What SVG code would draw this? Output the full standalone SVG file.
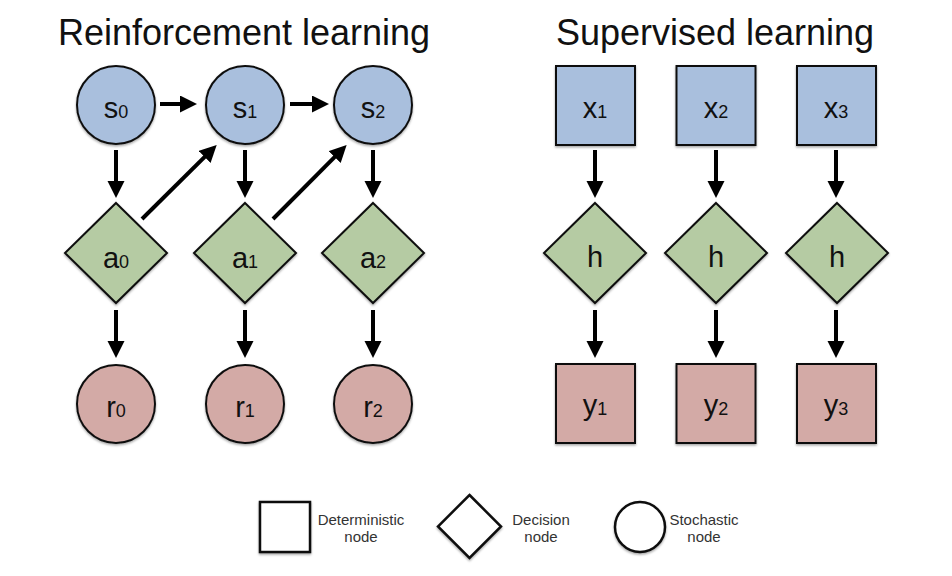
<svg xmlns="http://www.w3.org/2000/svg" width="952" height="576" viewBox="0 0 952 576">
  <defs>
    <marker id="ah" markerUnits="userSpaceOnUse" markerWidth="18" markerHeight="18" refX="9" refY="8.5" orient="auto">
      <path d="M0,0 L17,8.5 L0,17 Z" fill="#000"/>
    </marker>
    <filter id="sh" x="-20%" y="-20%" width="140%" height="150%">
      <feDropShadow dx="0" dy="1.5" stdDeviation="1.2" flood-color="#000" flood-opacity="0.35"/>
    </filter>
  </defs>
  <style>
    text { font-family: "Liberation Sans", Arial, sans-serif; fill: #111; }
    .title { font-size: 36px; text-anchor: middle; }
    .lbl { font-size: 29px; text-anchor: middle; }
    .sub { font-size: 18px; }
    .leg { font-size: 15px; text-anchor: middle; fill: #333; }
    .blue { fill: #a9bfdd; stroke: #111; stroke-width: 2; filter: url(#sh); }
    .green { fill: #b5cba3; stroke: #111; stroke-width: 2; filter: url(#sh); }
    .pink { fill: #d3aaa6; stroke: #111; stroke-width: 2; filter: url(#sh); }
    .legshape { fill: #fff; stroke: #111; stroke-width: 2.5; filter: url(#sh); }
    .arr { stroke: #000; stroke-width: 4; fill: none; marker-end: url(#ah); }
  </style>
  <rect width="952" height="576" fill="#fff"/>

  <text class="title" x="244" y="45">Reinforcement learning</text>
  <text class="title" x="715" y="45">Supervised learning</text>

  <g id="connectors">
    <line class="arr" x1="160" y1="104" x2="189" y2="104"/>
    <line class="arr" x1="290" y1="104" x2="321" y2="104"/>
    <line class="arr" x1="116" y1="150" x2="116" y2="190"/>
    <line class="arr" x1="245" y1="150" x2="245" y2="190"/>
    <line class="arr" x1="373" y1="150" x2="373" y2="190"/>
    <line class="arr" x1="142" y1="219" x2="211" y2="150.7"/>
    <line class="arr" x1="273" y1="219" x2="341" y2="150.7"/>
    <line class="arr" x1="116" y1="310" x2="116" y2="350"/>
    <line class="arr" x1="245" y1="310" x2="245" y2="350"/>
    <line class="arr" x1="373" y1="310" x2="373" y2="350"/>
    <line class="arr" x1="595" y1="150" x2="595" y2="190"/>
    <line class="arr" x1="716" y1="150" x2="716" y2="190"/>
    <line class="arr" x1="836" y1="150" x2="836" y2="190"/>
    <line class="arr" x1="595" y1="310" x2="595" y2="350"/>
    <line class="arr" x1="716" y1="310" x2="716" y2="350"/>
    <line class="arr" x1="836" y1="310" x2="836" y2="350"/>
  </g>

  <g id="s0"><circle class="blue" cx="116" cy="105" r="39"/><text class="lbl" x="116" y="118">s<tspan class="sub">0</tspan></text></g>
  <g id="s1"><circle class="blue" cx="245" cy="105" r="39"/><text class="lbl" x="245" y="118">s<tspan class="sub">1</tspan></text></g>
  <g id="s2"><circle class="blue" cx="373" cy="105" r="39"/><text class="lbl" x="373" y="118">s<tspan class="sub">2</tspan></text></g>

  <g id="a0"><polygon class="green" points="116,203 167,253 116,303 65,253"/><text class="lbl" x="116" y="268">a<tspan class="sub">0</tspan></text></g>
  <g id="a1"><polygon class="green" points="245,203 296,253 245,303 194,253"/><text class="lbl" x="245" y="268">a<tspan class="sub">1</tspan></text></g>
  <g id="a2"><polygon class="green" points="373,203 424,253 373,303 322,253"/><text class="lbl" x="373" y="268">a<tspan class="sub">2</tspan></text></g>

  <g id="r0"><circle class="pink" cx="116" cy="404" r="39"/><text class="lbl" x="116" y="417">r<tspan class="sub">0</tspan></text></g>
  <g id="r1"><circle class="pink" cx="245" cy="404" r="39"/><text class="lbl" x="245" y="417">r<tspan class="sub">1</tspan></text></g>
  <g id="r2"><circle class="pink" cx="373" cy="404" r="39"/><text class="lbl" x="373" y="417">r<tspan class="sub">2</tspan></text></g>

  <g id="x1"><rect class="blue" x="556" y="66" width="79" height="79"/><text class="lbl" x="595" y="118">x<tspan class="sub">1</tspan></text></g>
  <g id="x2"><rect class="blue" x="676.5" y="66" width="79" height="79"/><text class="lbl" x="716" y="118">x<tspan class="sub">2</tspan></text></g>
  <g id="x3"><rect class="blue" x="797" y="66" width="79" height="79"/><text class="lbl" x="836" y="118">x<tspan class="sub">3</tspan></text></g>

  <g id="h1"><polygon class="green" points="595,203 646,253 595,303 544,253"/><text class="lbl" x="595" y="267">h</text></g>
  <g id="h2"><polygon class="green" points="716,203 767,253 716,303 665,253"/><text class="lbl" x="716" y="267">h</text></g>
  <g id="h3"><polygon class="green" points="837,203 888,253 837,303 786,253"/><text class="lbl" x="837" y="267">h</text></g>

  <g id="y1"><rect class="pink" x="556" y="364" width="79" height="79"/><text class="lbl" x="595" y="415">y<tspan class="sub">1</tspan></text></g>
  <g id="y2"><rect class="pink" x="676.5" y="364" width="79" height="79"/><text class="lbl" x="716" y="415">y<tspan class="sub">2</tspan></text></g>
  <g id="y3"><rect class="pink" x="797" y="364" width="79" height="79"/><text class="lbl" x="836" y="415">y<tspan class="sub">3</tspan></text></g>

  <g id="legend-deterministic">
    <rect class="legshape" x="260" y="502" width="50" height="50"/>
    <text class="leg" x="361" y="525">Deterministic</text>
    <text class="leg" x="361" y="542">node</text>
  </g>
  <g id="legend-decision">
    <polygon class="legshape" points="469.5,495 501,526.5 469.5,558 438,526.5"/>
    <text class="leg" x="541" y="525">Decision</text>
    <text class="leg" x="541" y="542">node</text>
  </g>
  <g id="legend-stochastic">
    <circle class="legshape" cx="640" cy="527" r="25"/>
    <text class="leg" x="704" y="525">Stochastic</text>
    <text class="leg" x="704" y="542">node</text>
  </g>
</svg>
